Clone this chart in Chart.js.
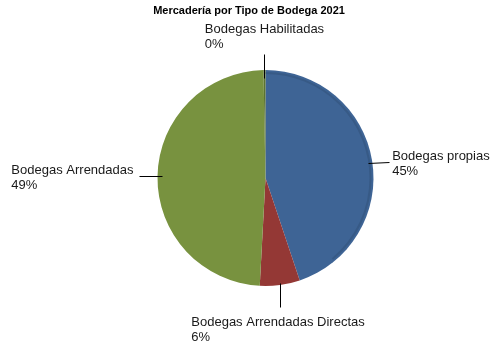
<!DOCTYPE html>
<html>
<head>
<meta charset="utf-8">
<script src="https://cdn.jsdelivr.net/npm/chart.js@4"></script>
<style>
  html, body { margin: 0; padding: 0; background: #fff; }
  #wrap { width: 500px; height: 350px; }
</style>
</head>
<body>
<div id="wrap"><canvas id="myChart" width="500" height="350"></canvas></div>
<script>
const chartTitle = 'Mercadería por Tipo de Bodega 2021';
const categories = ['Bodegas propias', 'Bodegas Arrendadas Directas', 'Bodegas Arrendadas', 'Bodegas Habilitadas'];
const shares = [45, 6, 49, 0.3];
const sliceColors = ['#3e6495', '#943835', '#78923f', '#5b7330'];
const rimColors = ['#2c4a70', '#6e2624', '#556b28', '#3f5020'];

const total = shares.reduce((a, b) => a + b, 0);

// darker bevel band just inside the edge (top-left round to lower right)
const bevel = {
  id: 'bevel',
  afterDatasetsDraw(chart) {
    const ctx = chart.ctx;
    const arcs = chart.getDatasetMeta(0).data;
    const from = -Math.PI * 0.95, to = Math.PI * 0.28;
    arcs.forEach((arc, i) => {
      const s = Math.max(arc.startAngle, from), e = Math.min(arc.endAngle, to);
      if (e <= s) return;
      ctx.save();
      ctx.strokeStyle = rimColors[i];
      ctx.globalAlpha = 0.4;
      ctx.lineWidth = 2;
      ctx.beginPath();
      ctx.arc(arc.x, arc.y, arc.outerRadius - 3, s, e);
      ctx.stroke();
      ctx.restore();
    });
  }
};

const labelsPlugin = {
  id: 'pieLabels',
  afterDraw(chart) {
    const ctx = chart.ctx;
    const arcs = chart.getDatasetMeta(0).data;
    ctx.save();
    // title
    ctx.fillStyle = '#000';
    ctx.font = 'bold 11px "Liberation Sans", Arial, sans-serif';
    ctx.textAlign = 'center';
    ctx.textBaseline = 'middle';
    ctx.fillText(chartTitle, 249, 11);

    ctx.font = '13px "Liberation Sans", Arial, sans-serif';
    const lh = 15;
    arcs.forEach((arc, i) => {
      const mid = (arc.startAngle + arc.endAngle) / 2;
      const cx = Math.cos(mid), cy = Math.sin(mid);
      const r = arc.outerRadius;
      const lines = [categories[i], Math.round(shares[i] / total * 100) + '%'];
      const w = Math.max(...lines.map(t => ctx.measureText(t).width));
      let x0, y0, x1, y1, left, top;
      if (Math.abs(cx) >= Math.abs(cy)) {
        // side label, short horizontal leader
        x0 = arc.x + cx * (r - 4);
        y0 = arc.y + cy * r + (cx > 0 ? 2 : 0);
        x1 = x0 + (cx > 0 ? 21 : -23);
        y1 = y0 + (cx > 0 ? -1 : 0);
        left = cx > 0 ? x1 + 3 : x1 - 5 - w;
        top = y1 - 12;
      } else {
        // top / bottom label, vertical leader
        x0 = arc.x + cx * r;
        x1 = x0;
        if (cy < 0) {
          y0 = arc.y - r + 8;
          y1 = y0 - 24;
          left = x1 - w / 2;
          top = y1 - 31;
        } else {
          y0 = arc.y + cy * (r - 2);
          y1 = y0 + 24;
          left = x1 - w / 2 - 2;
          top = y1 + 9;
        }
      }
      ctx.strokeStyle = '#000';
      ctx.lineWidth = 1;
      ctx.beginPath();
      ctx.moveTo(Math.round(x0) + 0.5, Math.round(y0) + 0.5);
      ctx.lineTo(Math.round(x1) + 0.5, Math.round(y1) + 0.5);
      ctx.stroke();

      ctx.fillStyle = '#1a1a1a';
      ctx.textAlign = 'left';
      ctx.textBaseline = 'top';
      lines.forEach((t, k) => ctx.fillText(t, left, top + k * lh));
    });
    ctx.restore();
  }
};

new Chart(document.getElementById('myChart').getContext('2d'), {
  type: 'pie',
  data: {
    labels: categories,
    datasets: [{
      data: shares,
      backgroundColor: sliceColors,
      borderWidth: 0
    }]
  },
  options: {
    responsive: false,
    animation: false,
    layout: { padding: { top: 70, bottom: 64, left: 31, right: 0 } },
    plugins: {
      legend: { display: false },
      tooltip: { enabled: false },
      title: { display: false }
    }
  },
  plugins: [bevel, labelsPlugin]
});
</script>
</body>
</html>
